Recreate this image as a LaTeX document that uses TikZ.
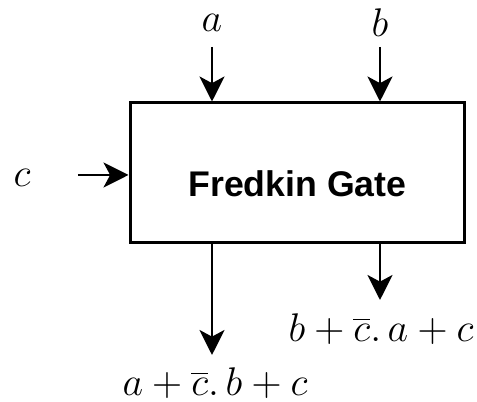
\documentclass[tikz,border=0pt]{standalone}
\usepackage{fontspec}
\newfontfamily\gatefont{Liberation Sans}
\usetikzlibrary{arrows.meta}

\tikzset{
  sig/.style={line width=0.8pt, -{Stealth[length=7.5pt, width=7.5pt, inset=2pt]}},
  gatebox/.style={draw, line width=0.9pt, minimum width=100.5pt, minimum height=42pt, inner sep=0pt},
  lbl/.style={inner sep=0pt, font=\fontsize{12.9}{15}\selectfont}
}

\begin{document}
\begin{tikzpicture}[x=0.3pt, y=-0.3pt]
\useasboundingbox (0,0) rectangle (477,402);

% Porte de Fredkin
\node[gatebox] (gate) at (297.5,173) {};
\node[lbl, font=\gatefont\bfseries\fontsize{10.7}{12}\selectfont] (gname) at (297.5,184) {Fredkin Gate};

% Entrées
\node[lbl] (a) at (212,23) {$a$};
\node[lbl] (b) at (380,23) {$b$};
\node[lbl] (c) at (22,178) {$c$};
\coordinate (aIn) at (212,47);
\coordinate (bIn) at (380,47);
\coordinate (cIn) at (78,175);
\draw[sig] (aIn) -- (aIn |- gate.north);
\draw[sig] (bIn) -- (bIn |- gate.north);
\draw[sig] (cIn) -- (cIn -| gate.west);

% Sorties
\coordinate (aOut) at (212,355);
\coordinate (bOut) at (380,300);
\draw[sig] (aOut |- gate.south) -- (aOut);
\draw[sig] (bOut |- gate.south) -- (bOut);
\node[lbl] (outa) at (215,383) {$a+\overline{c}.\,b+c$};
\node[lbl] (outb) at (381,329) {$b+\overline{c}.\,a+c$};

\end{tikzpicture}
\end{document}
